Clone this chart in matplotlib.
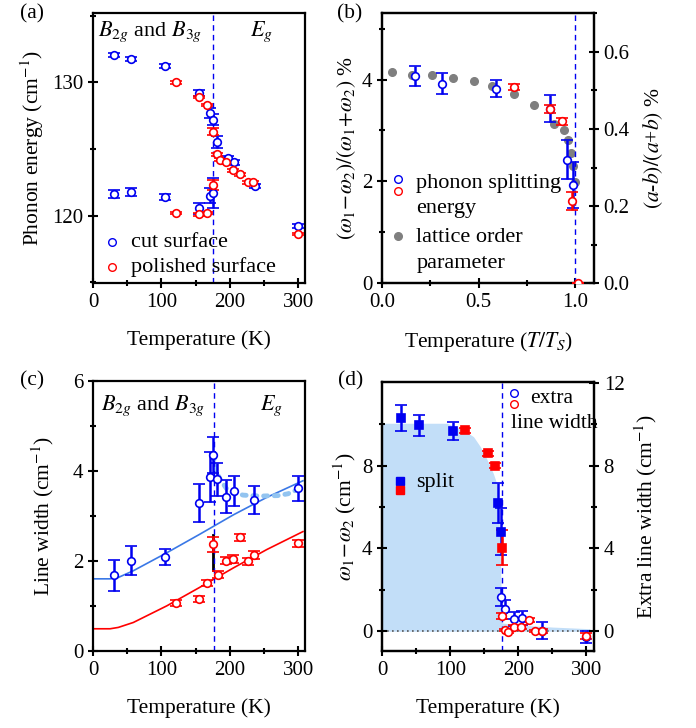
import numpy as np
import matplotlib
matplotlib.use("Agg")
import matplotlib.pyplot as plt
from matplotlib.ticker import MultipleLocator, FixedLocator

plt.rcParams['font.family'] = ['Liberation Serif', 'DejaVu Serif']
plt.rcParams['mathtext.fontset'] = 'stix'
plt.rcParams['font.size'] = 15

BLUE = '#0000f0'
RED = '#ff0000'
GRAY = '#7f7f7f'
TS = 176

# ---- (a) phonon energy ----
a_cut_up_T = [30, 56, 105, 155, 171, 176, 181, 197, 206, 237, 300]
a_cut_up_E = [132.1, 131.8, 131.25, 129.2, 127.7, 127.2, 125.5, 124.3, 124.0, 122.2, 119.2]
a_cut_up_err = [0.15, 0.15, 0.15, 0.25, 0.4, 0.4, 0.45, 0.2, 0.2, 0.15, 0.15]
a_cut_lo_T = [30, 56, 105, 155, 171, 176]
a_cut_lo_E = [121.6, 121.8, 121.4, 120.55, 121.5, 121.7]
a_cut_lo_err = [0.3, 0.3, 0.25, 0.4, 0.55, 1.1]
a_pol_up_T = [122, 155, 166, 176, 181, 185, 195, 205, 215, 226, 234, 300]
a_pol_up_E = [130.0, 128.9, 128.3, 126.3, 124.6, 124.2, 124.0, 123.4, 123.1, 122.5, 122.5, 118.6]
a_pol_up_err = [0.1, 0.1, 0.1, 0.25, 0.1, 0.1, 0.1, 0.1, 0.1, 0.1, 0.1, 0.1]
a_pol_lo_T = [121, 155, 166, 176]
a_pol_lo_E = [120.2, 120.1, 120.2, 122.3]
a_pol_lo_err = [0.1, 0.1, 0.1, 0.35]

# ---- (b) normalised splitting ----
b_cut_x = [0.172, 0.312, 0.593, 0.870, 0.960, 0.991]
b_cut_y = [4.07, 3.92, 3.82, 3.43, 2.43, 1.93]
b_cut_err = [0.2, 0.21, 0.17, 0.27, 0.38, 0.45]
b_pol_x = [0.683, 0.870, 0.936, 0.988, 1.017]
b_pol_y = [3.86, 3.43, 3.18, 1.61, 0.0]
b_pol_err = [0.06, 0.08, 0.07, 0.18, 0.0]
b_lat_x = [0.052, 0.156, 0.26, 0.367, 0.477, 0.57, 0.685, 0.789, 0.893, 0.945, 0.965, 0.983, 0.991, 1.0]
b_lat_y = [0.549, 0.541, 0.541, 0.532, 0.525, 0.512, 0.491, 0.463, 0.412, 0.397, 0.372, 0.338, 0.304, 0.264]

# ---- (c) line width ----
c_cut_T = [30, 56, 106, 155, 171, 176, 181, 195, 206, 235, 300]
c_cut_W = [1.69, 2.01, 2.09, 3.29, 3.87, 4.36, 3.82, 3.44, 3.56, 3.36, 3.62]
c_cut_err = [0.34, 0.32, 0.18, 0.42, 0.55, 0.4, 0.37, 0.36, 0.34, 0.31, 0.27]
c_pol_T = [121, 155, 166, 176, 183, 195, 205, 215, 226, 235, 300]
c_pol_W = [1.07, 1.16, 1.51, 2.38, 1.70, 2.01, 2.05, 2.53, 2.0, 2.14, 2.40]
c_pol_err = [0.07, 0.07, 0.07, 0.17, 0.08, 0.08, 0.08, 0.08, 0.08, 0.08, 0.08]
c_fit_T = [0, 25, 37, 59, 108, 156, 205, 254, 307]
c_fit_cut = [1.61, 1.61, 1.64, 1.79, 2.19, 2.60, 3.03, 3.42, 3.79]
c_fit_pol = [0.50, 0.50, 0.53, 0.64, 1.01, 1.42, 1.85, 2.26, 2.66]
c_dot_T = [176, 180, 186, 195, 205, 220, 245, 270, 285, 300, 308]
c_dot_W = [4.35, 4.0, 3.82, 3.62, 3.52, 3.47, 3.45, 3.46, 3.5, 3.6, 3.68]
c_bar_T = 175
c_bar_W = [1.81, 2.59]

# ---- (d) splitting and extra width ----
d_split_cut_T = [28, 54, 104, 170, 175]
d_split_cut_y = [10.3, 9.95, 9.68, 6.18, 4.81]
d_split_cut_err = [0.63, 0.52, 0.43, 0.97, 1.15]
d_split_pol_T = [121, 155, 166, 176]
d_split_pol_y = [9.71, 8.6, 7.99, 4.04]
d_split_pol_err = [0.12, 0.12, 0.12, 0.85]
d_ext_cut_T = [175, 180, 194, 205, 234, 300]
d_ext_cut_y = [1.64, 1.06, 0.58, 0.64, 0.03, -0.29]
d_ext_cut_err = [0.43, 0.45, 0.35, 0.33, 0.4, 0.3]
d_ext_pol_T = [176, 180, 185, 194, 204, 215, 225, 234, 300]
d_ext_pol_y = [0.74, 0.06, -0.02, 0.22, 0.22, 0.56, 0.02, 0.03, -0.24]
d_ext_pol_err = [0.15, 0.05, 0.05, 0.1, 0.1, 0.1, 0.05, 0.1, 0.15]
d_shade_T = [0, 95, 119, 134, 144, 153, 163, 168, 171, 173, 175, 176, 200, 250, 305]
d_shade_y = [10.05, 10.05, 9.73, 9.4, 8.92, 8.36, 7.63, 7.15, 6.0, 4.0, 1.5, 0.4, 0.3, 0.2, 0.12]


def style(ax):
    for s in ax.spines.values():
        s.set_linewidth(1.6)
    ax.tick_params(which='both', direction='inout', width=1.5, labelsize=15)
    ax.tick_params(which='major', length=7)
    ax.tick_params(which='minor', length=5)


def ebar(ax, x, y, e, c, fmt='o', fill='white', ms=5.5):
    ax.errorbar(x, y, yerr=e, fmt=fmt, mfc=fill, mec=c, ecolor=c, ms=ms,
                mew=1.2, elinewidth=1.8, capsize=4, capthick=1.8, zorder=3)


fig = plt.figure(figsize=(6.96, 7.28), dpi=100)
axa = fig.add_axes([0.1336, 0.6108, 0.3046, 0.3709])
axb = fig.add_axes([0.5493, 0.6108, 0.3041, 0.3709])
axc = fig.add_axes([0.1336, 0.1054, 0.3046, 0.3708])
axd = fig.add_axes([0.5493, 0.1054, 0.3041, 0.3695])

# (a)
ax = axa
ebar(ax, a_cut_up_T, a_cut_up_E, a_cut_up_err, BLUE)
ebar(ax, a_cut_lo_T, a_cut_lo_E, a_cut_lo_err, BLUE)
ebar(ax, a_pol_up_T, a_pol_up_E, a_pol_up_err, RED)
ebar(ax, a_pol_lo_T, a_pol_lo_E, a_pol_lo_err, RED)
ax.axvline(TS, color=BLUE, ls=(0, (4, 3)), lw=1)
ax.set_xlim(0, 310)
ax.set_ylim(114.9, 135.2)
ax.xaxis.set_major_locator(MultipleLocator(100))
ax.xaxis.set_minor_locator(MultipleLocator(50))
ax.yaxis.set_major_locator(MultipleLocator(10))
ax.yaxis.set_minor_locator(MultipleLocator(5))
ax.set_xlabel('Temperature (K)', fontsize=15.5, labelpad=13)
ax.set_ylabel('Phonon energy (cm$^{-1}$)', fontsize=15.5, labelpad=4)
ax.text(0.025, 0.93, '$B_{2g}$ and $B_{3g}$', transform=ax.transAxes, fontsize=16, va='center')
ax.text(0.74, 0.93, '$E_g$', transform=ax.transAxes, fontsize=16, va='center')
ax.plot([0.09], [0.153], 'o', mfc='white', mec=BLUE, ms=5.5, transform=ax.transAxes)
ax.plot([0.09], [0.06], 'o', mfc='white', mec=RED, ms=5.5, transform=ax.transAxes)
ax.text(0.18, 0.153, 'cut surface', transform=ax.transAxes, fontsize=16, va='center')
ax.text(0.18, 0.06, 'polished surface', transform=ax.transAxes, fontsize=16, va='center')
style(ax)

# (b)
ax = axb
axr = ax.twinx()
axr.plot(b_lat_x, b_lat_y, 'o', color=GRAY, ms=5.5, zorder=2)
axr.set_ylim(0, 0.7)
ebar(ax, b_cut_x, b_cut_y, b_cut_err, BLUE)
ebar(ax, b_pol_x, b_pol_y, b_pol_err, RED)
ax.set_zorder(axr.get_zorder() + 1)
ax.patch.set_visible(False)
ax.axvline(1.0, color=BLUE, ls=(0, (4, 3)), lw=1)
ax.set_xlim(0, 1.1)
ax.set_ylim(0, 5.3)
ax.xaxis.set_major_locator(FixedLocator([0, 0.5, 1.0]))
ax.xaxis.set_minor_locator(FixedLocator([0.25, 0.75]))
ax.xaxis.set_major_formatter(plt.FormatStrFormatter('%.1f'))
ax.yaxis.set_major_locator(MultipleLocator(2))
ax.yaxis.set_minor_locator(MultipleLocator(1))
axr.yaxis.set_major_locator(MultipleLocator(0.2))
axr.yaxis.set_minor_locator(MultipleLocator(0.1))
axr.yaxis.set_major_formatter(plt.FormatStrFormatter('%.1f'))
ax.set_xlabel('Temperature ($T/T_S$)', fontsize=15.5, labelpad=13)
ax.set_ylabel(r'$(\omega_1\!-\!\omega_2)/(\omega_1\!+\!\omega_2)$ %', fontsize=15.5, labelpad=3)
axr.set_ylabel('$(a$-$b)/(a$+$b)$ %', fontsize=15.5, labelpad=8)
ax.plot([0.074], [0.386], 'o', mfc='white', mec=BLUE, ms=5.5, transform=ax.transAxes)
ax.plot([0.074], [0.343], 'o', mfc='white', mec=RED, ms=5.5, transform=ax.transAxes)
ax.plot([0.074], [0.175], 'o', color=GRAY, ms=5.5, transform=ax.transAxes)
ax.text(0.16, 0.37, 'phonon splitting', transform=ax.transAxes, fontsize=16, va='center')
ax.text(0.16, 0.278, 'energy', transform=ax.transAxes, fontsize=16, va='center')
ax.text(0.16, 0.17, 'lattice order', transform=ax.transAxes, fontsize=16, va='center')
ax.text(0.16, 0.074, 'parameter', transform=ax.transAxes, fontsize=16, va='center')
style(ax)
style(axr)

# (c)
ax = axc
ax.plot(c_fit_T, c_fit_cut, color='#3a78e6', lw=1.2, zorder=2)
ax.plot(c_fit_T, c_fit_pol, color=RED, lw=1.2, zorder=2)
ax.plot(c_dot_T, c_dot_W, color='#93c4f0', lw=3.5, ls=(0, (0.8, 1.4)),
        dash_capstyle='round', zorder=2)
ax.plot([c_bar_T, c_bar_T], c_bar_W, color='black', lw=2, zorder=2)
ebar(ax, c_cut_T, c_cut_W, c_cut_err, BLUE)
ebar(ax, c_pol_T, c_pol_W, c_pol_err, RED)
ax.axvline(TS + 1, color=BLUE, ls=(0, (4, 3)), lw=1)
ax.set_xlim(0, 310)
ax.set_ylim(0, 6)
ax.xaxis.set_major_locator(MultipleLocator(100))
ax.xaxis.set_minor_locator(MultipleLocator(50))
ax.yaxis.set_major_locator(MultipleLocator(2))
ax.yaxis.set_minor_locator(MultipleLocator(1))
ax.set_xlabel('Temperature (K)', fontsize=15.5, labelpad=13)
ax.set_ylabel('Line width (cm$^{-1}$)', fontsize=15.5, labelpad=12)
ax.text(0.04, 0.91, '$B_{2g}$ and $B_{3g}$', transform=ax.transAxes, fontsize=16, va='center')
ax.text(0.79, 0.91, '$E_g$', transform=ax.transAxes, fontsize=16, va='center')
style(ax)

# (d)
ax = axd
axr = ax.twinx()
ax.fill_between(d_shade_T, 0, d_shade_y, color='#c2def8', lw=0, zorder=1)
ax.axhline(0, color='#555555', ls=(0, (1, 2)), lw=1.2, zorder=1)
ax.axvline(TS, color=BLUE, ls=(0, (4, 3)), lw=1, zorder=2)
ebar(ax, d_split_cut_T, d_split_cut_y, d_split_cut_err, BLUE, fmt='s', fill=BLUE, ms=6)
ebar(ax, d_split_pol_T, d_split_pol_y, d_split_pol_err, RED, fmt='s', fill=RED, ms=6)
ebar(ax, d_ext_cut_T, d_ext_cut_y, d_ext_cut_err, BLUE)
ebar(ax, d_ext_pol_T, d_ext_pol_y, d_ext_pol_err, RED)
ax.set_xlim(0, 311)
ax.set_ylim(-0.97, 12.03)
axr.set_ylim(-0.97, 12.03)
ax.xaxis.set_major_locator(MultipleLocator(100))
ax.xaxis.set_minor_locator(MultipleLocator(50))
ax.yaxis.set_major_locator(FixedLocator([0, 4, 8]))
ax.yaxis.set_minor_locator(FixedLocator([2, 6, 10]))
axr.yaxis.set_major_locator(FixedLocator([0, 4, 8, 12]))
axr.yaxis.set_minor_locator(FixedLocator([2, 6, 10]))
ax.set_xlabel('Temperature (K)', fontsize=15.5, labelpad=13)
ax.set_ylabel(r'$\omega_1\!-\!\omega_2$ (cm$^{-1}$)', fontsize=15.5, labelpad=3)
axr.set_ylabel('Extra line width (cm$^{-1}$)', fontsize=15.5, labelpad=6)
ax.plot([0.082], [0.634], 's', color=BLUE, ms=6, transform=ax.transAxes)
ax.plot([0.082], [0.6], 's', color=RED, ms=6, transform=ax.transAxes)
ax.text(0.16, 0.628, 'split', transform=ax.transAxes, fontsize=16, va='center')
ax.plot([0.62], [0.959], 'o', mfc='white', mec=BLUE, ms=5.5, transform=ax.transAxes)
ax.plot([0.62], [0.919], 'o', mfc='white', mec=RED, ms=5.5, transform=ax.transAxes)
ax.text(0.70, 0.938, 'extra', transform=ax.transAxes, fontsize=15.5, va='center')
ax.text(0.61, 0.848, 'line width', transform=ax.transAxes, fontsize=15.5, va='center')
style(ax)
style(axr)

fig.text(0.046, 0.981, '(a)', fontsize=15.5, ha='center', va='center')
fig.text(0.503, 0.981, '(b)', fontsize=15.5, ha='center', va='center')
fig.text(0.046, 0.477, '(c)', fontsize=15.5, ha='center', va='center')
fig.text(0.504, 0.477, '(d)', fontsize=15.5, ha='center', va='center')

fig.savefig('out.png', dpi=100)
